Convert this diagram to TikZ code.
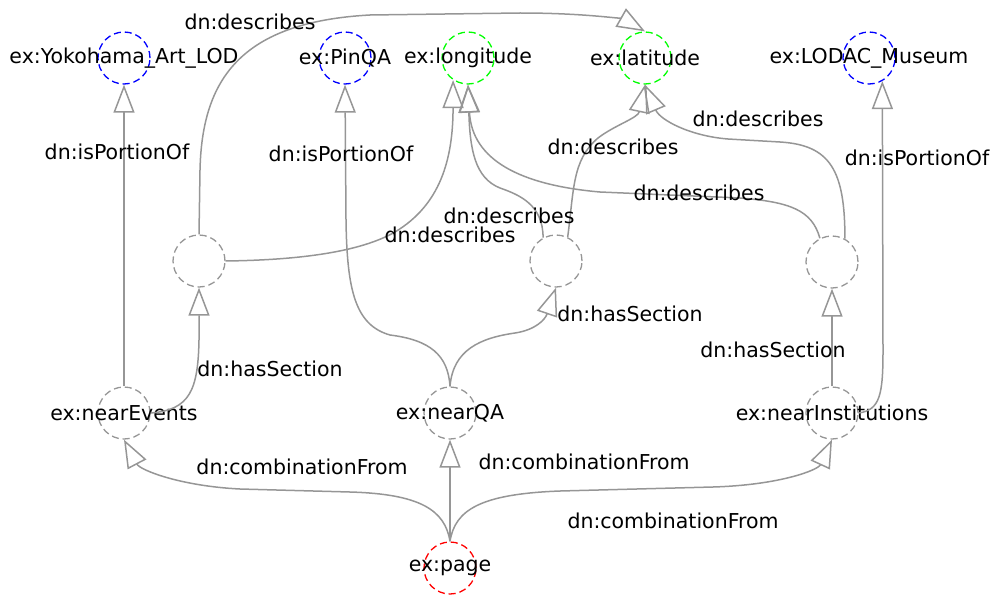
\documentclass[tikz,border=0pt]{standalone}
\usepackage{fontspec}
\setmainfont{DejaVu Sans}
\usetikzlibrary{arrows.meta}
\definecolor{edgegray}{RGB}{150,150,150}
\begin{document}
\begin{tikzpicture}[x=1pt,y=-1pt,font=\fontsize{20.5}{23}\selectfont,
    res/.style={circle,draw=#1,dash pattern=on 7pt off 4pt,line width=1.3pt,minimum size=52pt,inner sep=0pt},
    res/.default=edgegray,
    rel/.style={draw=edgegray,line width=1.5pt,-{Triangle[open,length=28pt,width=21pt]}},
    lbl/.style={inner sep=0pt}]
      \useasboundingbox (0,0) rectangle (992,594);
      \node[res=blue,label=center:{ex:Yokohama\_Art\_LOD}] (yokohama) at (124,58) {};
      \node[res=blue,label=center:{ex:PinQA}] (pinqa) at (345,58) {};
      \node[res=green,label=center:{ex:longitude}] (longitude) at (468,58) {};
      \node[res=green,label=center:{ex:latitude}] (latitude) at (645,58) {};
      \node[res=blue,label=center:{ex:LODAC\_Museum}] (lodac) at (869,58) {};
      \node[res] (sec1) at (199,261) {};
      \node[res] (sec2) at (556,261) {};
      \node[res] (sec3) at (832,262) {};
      \node[res,label=center:{ex:nearEvents}] (nearevents) at (124,413) {};
      \node[res,label=center:{ex:nearQA}] (nearqa) at (450,413) {};
      \node[res,label=center:{ex:nearInstitutions}] (nearinst) at (832,413) {};
      \node[res=red,label=center:{ex:page}] (page) at (450,568) {};
      \draw[rel] (nearevents.north) -- (yokohama.south);
      \draw[rel] (nearevents.east) .. controls (190,410) and (198,390) .. (199,340) -- (sec1.south);
      \draw[rel] (sec1.north) -- (200,170) .. controls (202,80) and (240,22) .. (370,15) -- (520,13) .. controls (590,13) and (625,20) .. (latitude.north);
      \draw[rel] (sec1.east) .. controls (300,260) and (360,252) .. (395,232) .. controls (440,205) and (453,160) .. (longitude.236);
      \draw[rel] (nearqa.north) .. controls (448,355) and (430,340) .. (390,335) .. controls (355,325) and (347,290) .. (346,220) -- (pinqa.south);
      \draw[rel] (nearqa.north) .. controls (453,350) and (480,338) .. (515,333) .. controls (535,330) and (545,320) .. (sec2.south);
      \draw[rel] (sec2.119) .. controls (543,205) and (520,195) .. (500,188) .. controls (475,178) and (470,150) .. (longitude.south);
      \draw[rel] (sec2.64) .. controls (574,190) and (572,160) .. (598,138) .. controls (615,125) and (638,118) .. (latitude.south);
      \draw[rel] (sec3.117) .. controls (812,210) and (790,202) .. (740,198) -- (600,192) .. controls (520,185) and (472,160) .. (longitude.south);
      \draw[rel] (sec3.61) .. controls (845,170) and (830,145) .. (780,142) -- (728,139) .. controls (690,136) and (660,120) .. (latitude.south);
      \draw[rel] (nearinst.north) -- (sec3.south);
      \draw[rel] (nearinst.east) .. controls (880,410) and (883,395) .. (883,350) -- (lodac.300);
      \draw[rel] (page.north) -- (nearqa.south);
      \draw[rel] (page.north) .. controls (445,510) and (420,494) .. (350,492) -- (240,489) .. controls (180,486) and (140,470) .. (nearevents.south);
      \draw[rel] (page.north) .. controls (455,510) and (480,494) .. (560,491) -- (713,487) .. controls (780,485) and (818,470) .. (nearinst.south);
      \node[lbl] (d1) at (250,22) {dn:describes};
      \node[lbl] (p1) at (117,152) {dn:isPortionOf};
      \node[lbl] (p2) at (341,154) {dn:isPortionOf};
      \node[lbl] (p3) at (917,158) {dn:isPortionOf};
      \node[lbl] (d2) at (758,119) {dn:describes};
      \node[lbl] (d3) at (613,147) {dn:describes};
      \node[lbl] (d4) at (699,193) {dn:describes};
      \node[lbl] (d5) at (509,216) {dn:describes};
      \node[lbl] (d6) at (450,235) {dn:describes};
      \node[lbl] (h1) at (630,314) {dn:hasSection};
      \node[lbl] (h2) at (773,350) {dn:hasSection};
      \node[lbl] (h3) at (270,369) {dn:hasSection};
      \node[lbl] (c1) at (302,467) {dn:combinationFrom};
      \node[lbl] (c2) at (584,462) {dn:combinationFrom};
      \node[lbl] (c3) at (673,521) {dn:combinationFrom};
    \end{tikzpicture}
\end{document}
